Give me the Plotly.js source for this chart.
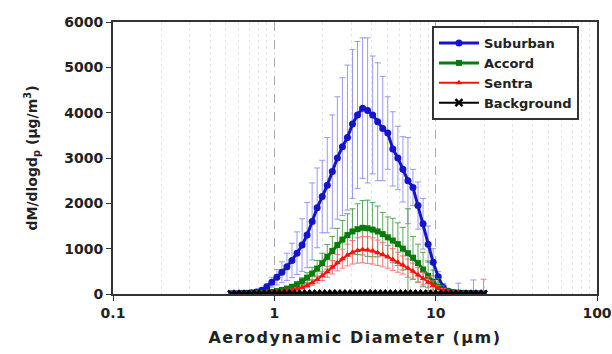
<!DOCTYPE html>
<html>
<head>
<meta charset="utf-8">
<script src="https://cdn.plot.ly/plotly-3.0.1.min.js"></script>
<style>html,body{margin:0;padding:0;background:#fff;}#chart{width:612px;height:354px;}#chart .xtitle{letter-spacing:1.5px;}</style>
</head>
<body>
<div id="chart"></div>
<script>
// Aerodynamic diameter channels (µm)
var diameters = [0.542,0.583,0.626,0.673,0.723,0.777,0.835,0.898,0.965,1.037,1.114,1.197,1.286,1.382,1.486,1.596,1.715,1.843,1.981,2.129,2.288,2.458,2.642,2.839,3.051,3.278,3.523,3.786,4.068,4.371,4.698,5.048,5.425,5.829,6.264,6.732,7.234,7.774,8.354,8.977,9.647,10.37,11.14,11.97,12.86,13.82,14.86,15.96,17.15,18.43,19.81];

var suburban = [5,8,12,18,28,45,85,160,260,370,480,600,740,900,1080,1300,1600,1900,2150,2400,2700,3000,3250,3450,3750,3950,4100,4050,3950,3800,3650,3550,3200,3000,2750,2500,2350,1950,1550,1100,700,380,150,60,30,20,15,12,10,8,5];
var suburbanErr = [3,4,5,8,12,18,30,60,110,170,230,300,380,470,580,720,850,880,800,1050,1250,1350,1520,1600,1640,1620,1550,1600,1300,1300,1150,800,820,700,720,950,400,520,560,400,300,120,80,40,60,220,30,20,300,20,15];

var accord = [2,3,5,7,10,15,22,32,45,65,90,120,160,210,280,360,450,560,680,820,950,1080,1200,1300,1380,1430,1460,1450,1420,1380,1320,1250,1180,1100,1000,900,800,680,540,400,270,160,90,50,30,20,15,10,8,6,4];
var accordErr = [1,1,2,3,4,5,8,12,15,20,25,35,45,60,80,110,140,180,220,270,320,370,420,470,500,560,600,620,600,560,480,450,490,470,470,980,470,420,380,330,260,180,100,60,30,20,15,10,8,6,5];

var sentra = [1,2,3,4,6,9,13,18,25,35,48,65,85,110,145,190,250,320,400,490,590,690,780,860,920,960,980,970,950,910,870,820,760,700,640,570,500,420,340,260,190,120,70,40,25,18,14,12,10,8,6];
var sentraErr = [1,1,1,2,2,3,4,5,7,9,12,16,22,28,36,48,62,80,100,120,150,180,210,240,260,280,290,300,290,280,270,250,240,220,200,200,180,160,140,120,100,70,50,30,20,15,12,10,10,10,320];

var background = [3,3,4,4,5,5,5,6,6,6,7,7,7,8,8,8,8,9,9,9,9,9,9,9,9,9,9,9,9,8,8,8,8,7,7,7,6,6,6,5,5,5,4,4,4,3,3,3,3,2,2];

var xTickVals = [0.1, 1, 10, 100];
var xTickText = ['0.1', '1', '10', '100'];
var yTickVals = [0, 1000, 2000, 3000, 4000, 5000, 6000];

var traces = [
  {
    name: 'Suburban', x: diameters, y: suburban, type: 'scatter', mode: 'lines+markers',
    line: {color: '#1414c8', width: 3},
    marker: {symbol: 'circle', size: 7, color: '#1414c8'},
    error_y: {type: 'data', array: suburbanErr, visible: true, color: 'rgba(120,120,235,0.75)', thickness: 1, width: 3}
  },
  {
    name: 'Accord', x: diameters, y: accord, type: 'scatter', mode: 'lines+markers',
    line: {color: '#0a7a0a', width: 3},
    marker: {symbol: 'square', size: 6, color: '#0a7a0a'},
    error_y: {type: 'data', array: accordErr, visible: true, color: 'rgba(50,145,50,0.8)', thickness: 1, width: 3}
  },
  {
    name: 'Sentra', x: diameters, y: sentra, type: 'scatter', mode: 'lines+markers',
    line: {color: '#ff1010', width: 2},
    marker: {symbol: 'triangle-up', size: 6, color: '#ff1010'},
    error_y: {type: 'data', array: sentraErr, visible: true, color: 'rgba(255,100,100,0.85)', thickness: 1, width: 3}
  },
  {
    name: 'Background', x: diameters, y: background, type: 'scatter', mode: 'lines+markers',
    line: {color: '#000000', width: 2},
    marker: {symbol: 'x-thin', size: 7, color: '#000000', line: {color: '#000000', width: 2.5}}
  }
];

var fam = 'DejaVu Sans, Liberation Sans, Arial, sans-serif';
var tickFont = {family: fam, size: 14, color: '#222', weight: 'bold'};

var layout = {
  width: 612, height: 354,
  margin: {l: 113, r: 15, t: 22, b: 60},
  paper_bgcolor: '#ffffff', plot_bgcolor: '#ffffff',
  showlegend: true,
  legend: {
    x: 0.659, y: 0.985, xanchor: 'left', yanchor: 'top',
    bgcolor: '#ffffff', bordercolor: '#333', borderwidth: 2,
    font: {family: fam, size: 13, color: '#222', weight: 'bold'},
    tracegroupgap: 0, itemwidth: 40
  },
  xaxis: {
    type: 'log', range: [-1, 2],
    tickvals: xTickVals, ticktext: xTickText,
    tickfont: tickFont, ticks: 'outside', ticklen: 5, tickcolor: '#333',
    showline: true, linecolor: '#333', linewidth: 2, mirror: true,
    showgrid: true, gridcolor: '#aaaaaa', griddash: 'dash', gridwidth: 1,
    minor: {dtick: 'D1', showgrid: true, gridcolor: '#e6e6e6', griddash: 'dot', ticks: ''},
    zeroline: false,
    title: {text: 'Aerodynamic Diameter (\u03bcm)', font: {family: fam, size: 16, color: '#222', weight: 'bold'}, standoff: 12}
  },
  yaxis: {
    range: [0, 6000], tickvals: yTickVals,
    tickfont: tickFont, ticks: 'outside', ticklen: 5, tickcolor: '#333',
    showline: true, linecolor: '#333', linewidth: 2, mirror: true,
    showgrid: false, zeroline: false,
    title: {text: 'dM/dlogd<sub>p</sub> (\u03bcg/m<sup>3</sup>)', font: {family: fam, size: 14, color: '#222', weight: 'bold'}, standoff: 23}
  }
};

Plotly.newPlot('chart', traces, layout, {displayModeBar: false, staticPlot: true});
</script>
</body>
</html>
